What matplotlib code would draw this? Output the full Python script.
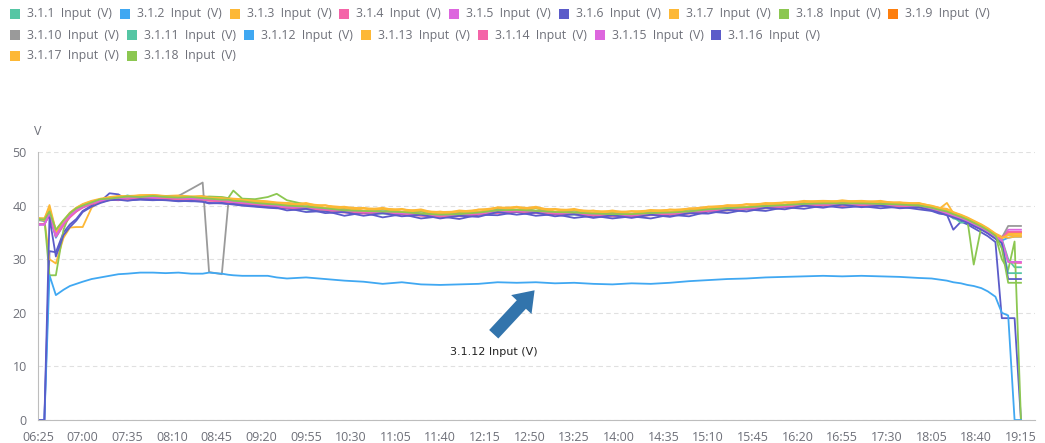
import matplotlib.pyplot as plt
from matplotlib.patches import Rectangle

# sample times (every series shares them)
times = ['06:25', '06:30', '06:34', '06:39', '06:45', '06:50', '06:55', '07:00',
         '07:07', '07:14', '07:21', '07:28', '07:35', '07:45', '07:55', '08:05',
         '08:15', '08:25', '08:34', '08:39', '08:49', '08:54', '08:58', '09:05',
         '09:15', '09:25', '09:32', '09:40', '09:55', '10:10', '10:25', '10:40',
         '10:55', '11:10', '11:25', '11:40', '11:55', '12:10', '12:25', '12:40',
         '12:55', '13:10', '13:25', '13:40', '13:55', '14:10', '14:25', '14:40',
         '14:55', '15:10', '15:25', '15:40', '15:55', '16:10', '16:25', '16:40',
         '16:55', '17:10', '17:25', '17:40', '17:55', '18:05', '18:11', '18:17',
         '18:22', '18:28', '18:33', '18:38', '18:44', '18:49', '18:55', '19:00',
         '19:05', '19:10', '19:15']

tick_labels = ['06:25', '07:00', '07:35', '08:10', '08:45', '09:20', '09:55', '10:30',
               '11:05', '11:40', '12:15', '12:50', '13:25', '14:00', '14:35', '15:10',
               '15:45', '16:20', '16:55', '17:30', '18:05', '18:40', '19:15']

names = ['3.1.1 Input (V)', '3.1.2 Input (V)', '3.1.3 Input (V)', '3.1.4 Input (V)',
         '3.1.5 Input (V)', '3.1.6 Input (V)', '3.1.7 Input (V)', '3.1.8 Input (V)',
         '3.1.9 Input (V)', '3.1.10 Input (V)', '3.1.11 Input (V)', '3.1.12 Input (V)',
         '3.1.13 Input (V)', '3.1.14 Input (V)', '3.1.15 Input (V)', '3.1.16 Input (V)',
         '3.1.17 Input (V)', '3.1.18 Input (V)']

colors = ['#55C6A4', '#40A8F2', '#FDB836', '#F464A8', '#DD66DE', '#5B5BC9',
          '#FDB836', '#8CC751', '#FD7E0E', '#9A9A9A', '#55C6A4', '#40A8F2',
          '#FDB836', '#F464A8', '#DD66DE', '#5B5BC9', '#FDB836', '#8CC751']

v_1 = [37.5, 37.4, 38.5, 35.0, 37.2, 38.4, 39.3, 39.8, 40.4, 41.2,
       41.0, 41.3, 41.9, 41.4, 41.5, 41.3, 41.2, 41.3, 41.0, 41.1,
       40.8, 40.7, 40.6, 40.3, 40.2, 39.9, 39.8, 39.7, 39.3, 38.9,
       38.8, 38.7, 38.5, 38.6, 38.2, 38.0, 38.1, 38.3, 38.9, 38.8,
       38.7, 38.5, 38.3, 38.2, 38.0, 38.1, 38.3, 38.4, 38.6, 39.0,
       39.1, 39.4, 39.5, 39.8, 39.9, 40.0, 40.1, 40.0, 40.0, 39.8,
       39.6, 39.2, 38.9, 38.5, 37.6, 37.3, 36.9, 36.2, 35.6, 34.9,
       34.0, 33.8, 30.0, 28.5, 28.5]
v_2 = [36.4, 36.6, 38.4, 34.0, 36.5, 38.0, 39.0, 39.8, 40.6, 41.1,
       41.3, 41.5, 41.5, 41.7, 41.6, 41.6, 41.4, 41.5, 41.4, 41.3,
       41.1, 41.0, 40.9, 40.7, 40.4, 40.3, 40.1, 40.0, 39.8, 39.5,
       39.2, 39.0, 38.9, 38.8, 38.5, 38.4, 38.4, 38.7, 39.1, 39.2,
       39.0, 38.8, 38.7, 38.6, 38.4, 38.5, 38.6, 38.7, 38.9, 39.3,
       39.5, 39.7, 39.9, 40.1, 40.3, 40.3, 40.4, 40.3, 40.3, 40.2,
       40.0, 39.5, 39.2, 38.8, 38.3, 37.8, 37.3, 36.7, 36.0, 35.3,
       34.3, 33.5, 34.0, 34.2, 34.2]
v_3 = [37.6, 37.5, 40.1, 35.3, 37.0, 38.6, 39.6, 40.2, 40.8, 41.1,
       41.5, 41.6, 41.7, 41.8, 41.9, 41.7, 41.8, 41.6, 41.7, 41.5,
       41.3, 41.2, 41.1, 41.0, 40.8, 40.6, 40.5, 40.5, 39.8, 40.1,
       39.2, 39.6, 38.8, 39.4, 38.5, 38.9, 38.4, 39.3, 39.2, 39.8,
       39.0, 39.4, 38.7, 39.1, 38.4, 39.0, 38.6, 39.3, 38.9, 39.8,
       39.5, 40.3, 39.9, 40.6, 40.3, 40.8, 40.4, 40.8, 40.3, 40.6,
       40.0, 39.8, 39.4, 40.5, 38.6, 38.1, 37.6, 37.0, 36.3, 35.6,
       34.6, 34.0, 34.5, 34.8, 34.8]
v_4 = [36.5, 36.6, 38.2, 34.2, 36.3, 37.8, 38.9, 39.6, 40.3, 40.6,
       41.1, 41.0, 41.3, 41.5, 41.3, 41.2, 41.3, 41.0, 41.1, 40.9,
       40.8, 40.5, 40.5, 40.2, 40.1, 39.8, 39.7, 39.5, 39.4, 39.1,
       38.7, 38.5, 38.6, 38.3, 38.1, 37.9, 38.0, 38.4, 38.6, 38.8,
       38.6, 38.3, 38.4, 38.1, 38.0, 37.9, 38.2, 38.3, 38.5, 38.9,
       39.1, 39.3, 39.5, 39.6, 39.9, 40.0, 39.9, 40.1, 39.9, 39.8,
       39.7, 39.1, 38.8, 38.3, 37.9, 37.3, 36.9, 36.3, 35.6, 34.9,
       34.0, 33.5, 29.5, 29.3, 29.3]
v_5 = [36.4, 36.5, 38.6, 34.6, 36.6, 38.0, 39.1, 39.7, 40.4, 40.8,
       41.2, 41.3, 41.6, 41.5, 41.7, 41.4, 41.3, 41.5, 41.2, 41.1,
       41.0, 40.8, 40.6, 40.5, 40.3, 40.1, 39.8, 39.8, 39.6, 39.3,
       38.9, 38.8, 38.7, 38.5, 38.3, 38.1, 38.2, 38.5, 38.9, 39.0,
       38.8, 38.6, 38.5, 38.3, 38.2, 38.2, 38.4, 38.5, 38.7, 39.1,
       39.3, 39.5, 39.7, 39.9, 40.1, 40.2, 40.2, 40.2, 40.1, 40.0,
       39.8, 39.5, 39.0, 38.6, 38.0, 37.5, 37.0, 36.5, 35.8, 35.1,
       34.1, 34.0, 35.5, 35.5, 35.5]
v_6 = [0.0, 0.0, 31.5, 31.3, 35.0, 36.5, 37.5, 39.0, 40.0, 40.8,
       42.3, 42.1, 41.0, 41.1, 41.0, 41.1, 40.9, 40.8, 40.8, 40.5,
       40.4, 40.3, 40.2, 40.0, 39.8, 39.6, 39.5, 39.5, 38.8, 39.0,
       38.1, 38.7, 37.8, 38.4, 37.6, 38.0, 37.5, 38.3, 38.2, 38.8,
       38.1, 38.4, 37.7, 38.1, 37.6, 38.0, 37.6, 38.3, 38.0, 38.9,
       38.6, 39.3, 39.0, 39.7, 39.4, 40.0, 39.6, 39.9, 39.5, 39.8,
       39.3, 39.0, 38.5, 38.3, 35.5, 37.0, 36.5, 35.8, 35.0, 34.3,
       33.2, 19.0, 19.0, 19.0, 0.0]
v_7 = [37.6, 37.4, 30.0, 29.2, 34.0, 35.9, 36.0, 36.0, 39.6, 41.0,
       41.4, 41.7, 41.8, 41.9, 42.0, 41.8, 41.9, 41.7, 41.8, 41.6,
       41.5, 41.4, 41.3, 41.2, 41.0, 40.8, 40.6, 40.5, 40.3, 40.0,
       39.7, 39.5, 39.4, 39.3, 39.0, 38.8, 38.9, 39.2, 39.6, 39.7,
       39.5, 39.3, 39.2, 39.0, 38.9, 38.9, 39.1, 39.2, 39.4, 39.8,
       40.0, 40.2, 40.4, 40.6, 40.8, 40.9, 40.8, 40.9, 40.7, 40.6,
       40.4, 40.0, 39.6, 39.4, 38.8, 38.3, 37.8, 37.2, 36.5, 35.8,
       34.8, 34.2, 34.0, 34.2, 34.2]
v_8 = [37.5, 37.6, 27.0, 27.0, 35.5, 38.5, 39.5, 40.1, 40.7, 41.2,
       41.4, 41.6, 41.7, 41.8, 41.7, 41.8, 41.6, 41.6, 41.5, 41.7,
       41.6, 41.4, 42.8, 41.3, 41.2, 41.6, 42.2, 41.0, 40.2, 39.4,
       39.5, 38.8, 39.3, 38.6, 38.9, 38.2, 38.7, 38.5, 39.4, 39.0,
       39.5, 38.7, 39.1, 38.3, 38.8, 38.3, 38.9, 38.6, 39.3, 39.2,
       39.8, 39.6, 40.2, 40.0, 40.6, 40.2, 40.7, 40.3, 40.6, 40.1,
       40.3, 39.6, 39.3, 38.9, 38.4, 37.9, 37.4, 29.0, 36.1, 35.4,
       34.4, 30.0, 28.0, 33.3, 0.0]
v_9 = [37.4, 37.3, 39.0, 34.8, 36.9, 38.3, 39.3, 40.0, 40.5, 41.0,
       41.3, 41.2, 41.6, 41.7, 41.4, 41.5, 41.7, 41.3, 41.3, 41.0,
       41.1, 40.8, 40.8, 40.7, 40.3, 40.2, 40.1, 39.8, 39.7, 39.5,
       38.9, 39.0, 38.7, 38.8, 38.3, 38.3, 38.2, 38.7, 38.9, 39.2,
       38.8, 38.8, 38.5, 38.5, 38.2, 38.4, 38.4, 38.7, 38.7, 39.3,
       39.3, 39.7, 39.7, 40.1, 40.1, 40.4, 40.2, 40.4, 40.1, 40.2,
       39.8, 39.5, 39.0, 38.8, 38.1, 37.8, 37.1, 36.7, 35.8, 35.3,
       34.1, 33.9, 35.0, 35.0, 35.0]
v_10 = [37.3, 37.1, 38.9, 34.3, 36.7, 38.1, 39.2, 40.0, 40.6, 41.1,
        41.3, 41.5, 41.6, 41.5, 41.7, 41.6, 41.8, 43.1, 44.3, 27.6,
        27.2, 40.3, 40.9, 40.7, 40.5, 40.3, 40.0, 40.0, 39.8, 39.5,
        39.1, 39.0, 38.9, 38.8, 38.5, 38.3, 38.4, 38.7, 39.1, 39.2,
        39.0, 38.8, 38.7, 38.5, 38.4, 38.4, 38.6, 38.7, 38.9, 39.3,
        39.5, 39.7, 39.9, 40.1, 40.3, 40.4, 40.4, 40.4, 40.3, 40.2,
        40.0, 39.5, 39.2, 38.8, 38.3, 37.8, 37.3, 36.7, 36.0, 35.3,
        34.3, 34.0, 36.2, 36.2, 36.2]
v_11 = [37.4, 37.2, 38.7, 35.2, 37.0, 38.2, 39.0, 39.9, 40.4, 40.9,
        41.2, 41.4, 41.4, 41.8, 41.5, 41.4, 41.4, 41.3, 41.2, 41.1,
        40.9, 40.8, 40.7, 40.5, 40.3, 40.1, 39.9, 39.8, 39.6, 39.2,
        38.9, 38.8, 38.6, 38.6, 38.3, 38.1, 38.2, 38.5, 38.9, 39.0,
        38.8, 38.6, 38.5, 38.2, 38.2, 38.2, 38.4, 38.4, 38.7, 39.1,
        39.2, 39.5, 39.6, 39.9, 40.0, 40.2, 40.1, 40.2, 40.0, 39.9,
        39.7, 39.3, 38.9, 38.4, 37.9, 36.8, 37.0, 36.4, 35.6, 35.0,
        34.0, 33.0, 27.4, 27.4, 27.4]
v_12 = [0.0, 0.0, 27.0, 23.3, 24.3, 25.0, 25.4, 25.8, 26.3, 26.6,
        26.9, 27.2, 27.3, 27.5, 27.5, 27.4, 27.5, 27.3, 27.3, 27.5,
        27.3, 27.1, 27.0, 26.9, 26.9, 26.9, 26.6, 26.4, 26.6, 26.3,
        26.0, 25.8, 25.4, 25.7, 25.3, 25.2, 25.3, 25.4, 25.7, 25.6,
        25.7, 25.5, 25.6, 25.4, 25.3, 25.5, 25.4, 25.6, 25.9, 26.1,
        26.3, 26.4, 26.6, 26.7, 26.8, 26.9, 26.8, 26.9, 26.8, 26.7,
        26.5, 26.4, 26.2, 26.0, 25.7, 25.5, 25.2, 25.0, 24.6, 24.0,
        23.0, 20.0, 19.5, 0.0, 0.0]
v_13 = [37.5, 37.3, 39.3, 35.0, 37.1, 38.5, 39.4, 40.1, 40.7, 41.2,
        41.4, 41.7, 41.6, 41.9, 41.8, 41.7, 41.6, 41.7, 41.5, 41.4,
        41.3, 41.1, 41.0, 40.9, 40.7, 40.5, 40.3, 39.9, 40.3, 39.4,
        39.6, 38.9, 39.4, 38.8, 39.1, 38.3, 38.9, 38.7, 39.6, 39.1,
        39.6, 38.8, 39.2, 38.5, 38.9, 38.4, 39.0, 38.7, 39.4, 39.3,
        39.9, 39.7, 40.3, 40.1, 40.7, 40.3, 40.8, 40.4, 40.7, 40.2,
        40.4, 39.7, 39.4, 39.0, 38.5, 38.0, 37.5, 36.9, 36.2, 35.5,
        34.5, 33.8, 34.8, 34.8, 34.8]
v_14 = [36.6, 36.5, 38.3, 34.3, 36.5, 37.9, 38.9, 39.8, 40.3, 40.7,
        41.0, 41.3, 41.2, 41.5, 41.4, 41.3, 41.2, 41.2, 41.1, 41.0,
        40.8, 40.7, 40.5, 40.4, 40.2, 40.0, 39.8, 39.6, 39.5, 39.2,
        38.8, 38.7, 38.6, 38.5, 38.2, 38.0, 38.1, 38.4, 38.8, 38.9,
        38.7, 38.5, 38.4, 38.2, 38.1, 38.1, 38.3, 38.4, 38.6, 39.0,
        39.2, 39.4, 39.6, 39.8, 40.0, 40.1, 40.1, 40.1, 40.0, 39.9,
        39.7, 39.3, 38.9, 38.5, 38.0, 37.5, 37.0, 36.4, 35.7, 35.0,
        34.0, 34.0, 35.1, 35.1, 35.1]
v_15 = [36.5, 36.4, 38.7, 34.4, 36.8, 38.1, 39.1, 39.9, 40.5, 40.9,
        41.2, 41.4, 41.5, 41.6, 41.5, 41.6, 41.4, 41.4, 41.2, 41.2,
        41.0, 40.9, 40.7, 40.6, 40.4, 40.2, 40.0, 39.8, 39.7, 39.4,
        39.0, 38.9, 38.8, 38.6, 38.4, 38.2, 38.3, 38.6, 38.9, 39.1,
        38.9, 38.7, 38.6, 38.4, 38.3, 38.3, 38.5, 38.6, 38.8, 39.2,
        39.4, 39.6, 39.8, 40.0, 40.2, 40.3, 40.2, 40.3, 40.2, 40.1,
        39.9, 39.4, 39.1, 38.6, 38.2, 37.6, 37.1, 36.5, 35.8, 35.1,
        34.1, 33.5, 29.5, 29.5, 29.5]
v_16 = [0.0, 0.0, 37.8, 30.5, 34.5, 36.0, 37.2, 38.8, 39.8, 40.5,
        41.0, 41.1, 40.9, 41.2, 41.1, 41.0, 40.8, 40.9, 40.7, 40.4,
        40.5, 40.3, 40.3, 40.1, 39.9, 39.7, 39.6, 39.1, 39.4, 38.6,
        38.8, 38.1, 38.6, 38.0, 38.3, 37.6, 38.1, 37.9, 38.8, 38.3,
        38.7, 38.0, 38.4, 37.7, 38.2, 37.7, 38.3, 37.9, 38.6, 38.5,
        39.2, 38.9, 39.6, 39.3, 40.0, 39.6, 40.2, 39.7, 40.0, 39.5,
        39.7, 39.1, 38.7, 38.2, 37.8, 37.3, 36.8, 36.2, 35.5, 34.8,
        33.8, 33.0, 26.3, 26.3, 26.3]
v_17 = [37.7, 37.6, 39.5, 35.4, 37.2, 38.7, 39.6, 40.3, 40.9, 41.3,
        41.6, 41.8, 41.7, 41.9, 42.0, 41.7, 41.8, 41.6, 41.7, 41.5,
        41.4, 41.3, 41.2, 41.1, 40.9, 40.7, 40.4, 40.1, 40.5, 39.6,
        39.8, 39.1, 39.6, 38.9, 39.3, 38.4, 39.1, 38.8, 39.7, 39.3,
        39.8, 38.9, 39.4, 38.6, 39.1, 38.5, 39.2, 38.8, 39.5, 39.4,
        40.1, 39.8, 40.5, 40.2, 40.9, 40.5, 41.0, 40.6, 40.9, 40.3,
        40.5, 39.9, 39.6, 39.2, 38.7, 38.2, 37.7, 37.1, 36.4, 35.7,
        34.7, 34.0, 34.5, 34.5, 34.5]
v_18 = [37.5, 37.4, 38.9, 35.5, 37.3, 38.6, 39.5, 40.0, 40.6, 41.2,
        41.3, 41.5, 41.7, 41.6, 41.8, 41.6, 41.5, 41.6, 41.4, 41.3,
        41.1, 41.1, 40.9, 40.8, 40.5, 40.3, 40.2, 40.0, 39.8, 39.5,
        39.1, 39.0, 38.9, 38.8, 38.5, 38.3, 38.4, 38.7, 39.1, 39.2,
        39.0, 38.8, 38.7, 38.5, 38.4, 38.4, 38.6, 38.7, 38.9, 39.3,
        39.5, 39.7, 39.9, 40.1, 40.3, 40.4, 40.4, 40.4, 40.3, 40.2,
        40.0, 39.6, 39.2, 38.9, 38.4, 37.9, 37.4, 36.8, 36.1, 35.4,
        34.4, 32.0, 25.6, 25.6, 25.6]

series = [v_1, v_2, v_3, v_4, v_5, v_6, v_7, v_8, v_9, v_10,
          v_11, v_12, v_13, v_14, v_15, v_16, v_17, v_18]

legend_rows = [9, 7, 2]


def minutes(t):
    h, m = t.split(':')
    return int(h) * 60 + int(m) - (6 * 60 + 25)


x = [minutes(t) for t in times]

W, H = 1045, 443
fig = plt.figure(figsize=(W / 100, H / 100), dpi=100)
ax = fig.add_axes([38 / W, 23 / H, 997 / W, 268 / H])

for vals, c in zip(series, colors):
    ax.plot(x, vals, color=c, lw=1.3, solid_joinstyle='round')

ax.set_xlim(0, 781)
ax.set_ylim(0, 50)
ax.set_yticks([0, 10, 20, 30, 40, 50])
ax.set_xticks([minutes(t) for t in tick_labels])
ax.set_xticklabels(tick_labels)
ax.tick_params(length=0, labelsize=9, colors='#6E7079', pad=8)
for lbl in ax.get_xticklabels() + ax.get_yticklabels():
    lbl.set_family('Open Sans')
ax.grid(axis='y', color='#E0E0E0', ls=(0, (4, 3)), lw=0.8)
ax.set_axisbelow(True)
for s in ['top', 'right']:
    ax.spines[s].set_visible(False)
ax.spines['left'].set_color('#BDBDBD')
ax.spines['bottom'].set_color('#BDBDBD')
ax.text(0, 1.075, 'V', transform=ax.transAxes, ha='center', va='center',
        fontsize=9, color='#6E7079', family='Open Sans')

# callout for the low string
ax.annotate('', xy=(minutes('12:54'), 24.2), xytext=(minutes('12:22'), 16.0),
            arrowprops=dict(arrowstyle='simple,head_length=0.7,head_width=1.0,tail_width=0.45',
                            fc='#3274AC', ec='none', shrinkA=0, shrinkB=0,
                            mutation_scale=20))
ax.text(minutes('12:22'), 12.7, names[11], ha='center', va='center',
        fontsize=8, color='#222222')

# legend laid out in rows like the web widget
renderer = fig.canvas.get_renderer()
k = 0
for row, count in enumerate(legend_rows):
    px = 10
    py = 14 + row * 21
    for _ in range(count):
        fig.add_artist(Rectangle((px / W, 1 - (py + 5) / H), 10 / W, 10 / H,
                                 transform=fig.transFigure, color=colors[k], lw=0))
        label = names[k].replace(' ', '  ')
        t = fig.text((px + 17) / W, 1 - py / H, label, ha='left', va='center',
                     fontsize=8.8, color='#6E7079', family='Open Sans')
        px += 17 + t.get_window_extent(renderer).width + 8
        k += 1

fig.savefig('out.png', dpi=100)
